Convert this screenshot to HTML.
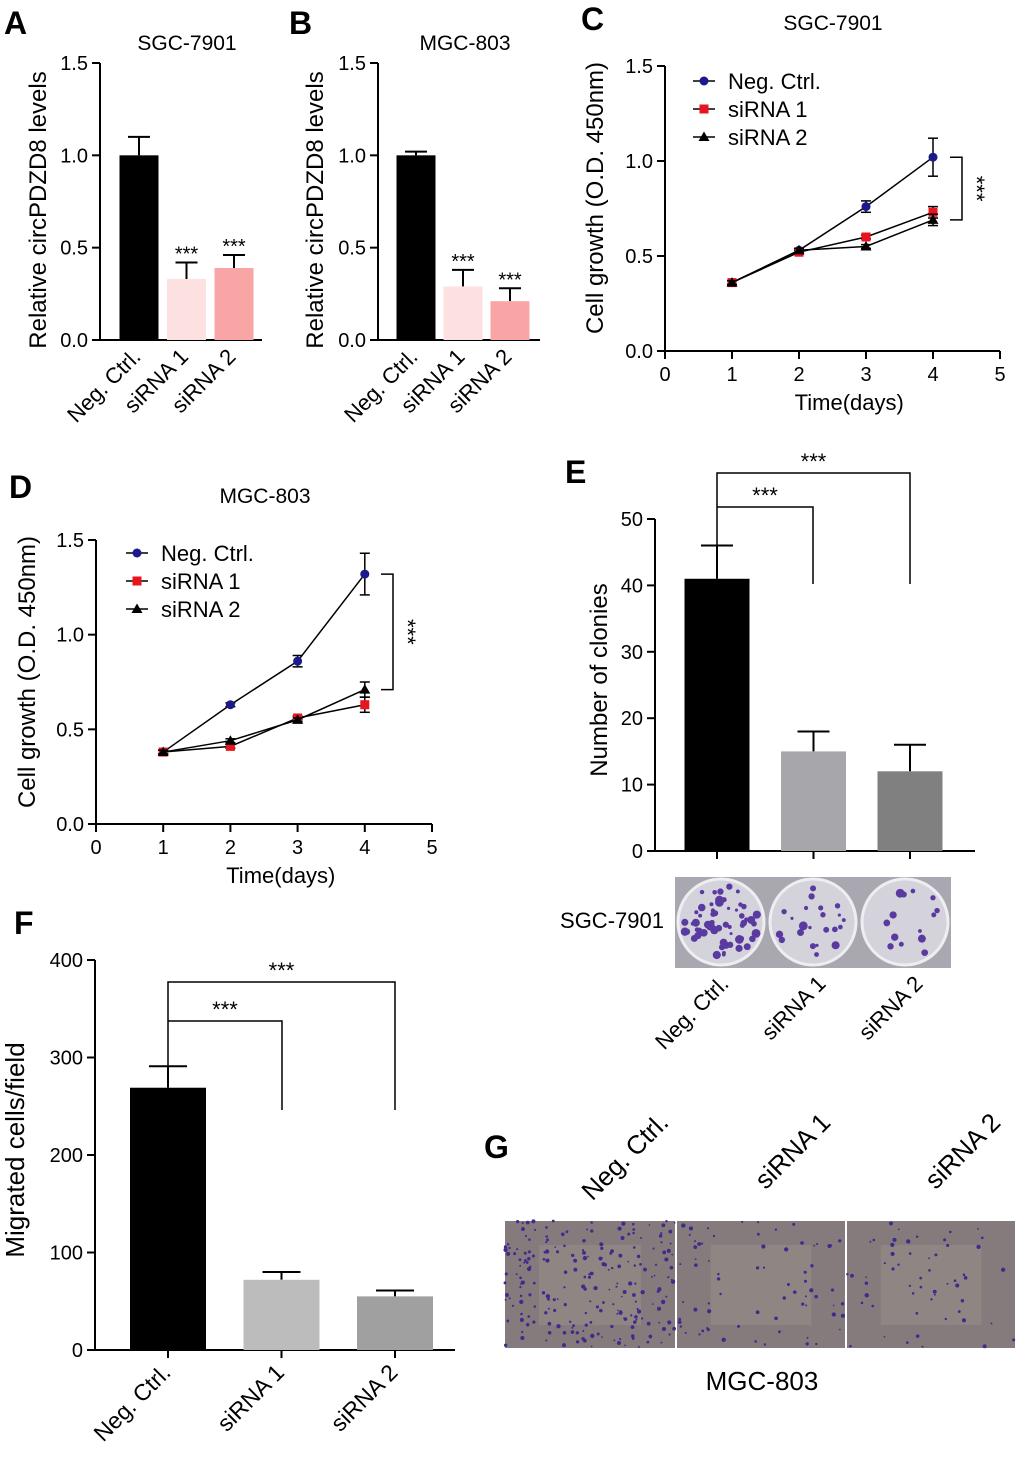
<!DOCTYPE html>
<html><head><meta charset="utf-8">
<style>
html,body{margin:0;padding:0;background:#fff;}
svg{display:block;font-family:"Liberation Sans",Arial,sans-serif;}
</style></head>
<body>
<svg id="fig" width="1020" height="1461" viewBox="0 0 1020 1461" xmlns="http://www.w3.org/2000/svg">
<g id="labels" font-weight="bold" font-size="32" fill="#000">
<text x="4" y="34">A</text>
<text x="289" y="34">B</text>
<text x="581" y="30">C</text>
<text x="9" y="498">D</text>
<text x="565" y="483">E</text>
<text x="14" y="934">F</text>
<text x="484" y="1158">G</text>
</g>
</svg>
<script>
// ---- Panel A data ----
const aCategories = ["Neg. Ctrl.", "siRNA 1", "siRNA 2"];
const aValues = [1.0, 0.33, 0.39];
const aErrors = [0.1, 0.09, 0.07];
const aStars = ["", "***", "***"];
// ---- Panel B data ----
const bCategories = ["Neg. Ctrl.", "siRNA 1", "siRNA 2"];
const bValues = [1.0, 0.29, 0.21];
const bErrors = [0.02, 0.09, 0.07];
const bStars = ["", "***", "***"];
const abTicks = [0, 0.5, 1.0, 1.5];
// ---- Panel C data ----
const cDays = [1, 2, 3, 4];
const cNeg = [0.36, 0.53, 0.76, 1.02];
const cNegErr = [0.01, 0.01, 0.03, 0.1];
const cSi1 = [0.36, 0.52, 0.60, 0.73];
const cSi1Err = [0.01, 0.01, 0.01, 0.03];
const cSi2 = [0.36, 0.53, 0.55, 0.69];
const cSi2Err = [0.01, 0.01, 0.01, 0.03];
// ---- Panel D data ----
const dDays = [1, 2, 3, 4];
const dNeg = [0.38, 0.63, 0.86, 1.32];
const dNegErr = [0.01, 0.01, 0.03, 0.11];
const dSi1 = [0.38, 0.41, 0.56, 0.63];
const dSi1Err = [0.01, 0.01, 0.01, 0.04];
const dSi2 = [0.38, 0.44, 0.55, 0.71];
const dSi2Err = [0.01, 0.01, 0.01, 0.04];
const lineYTicks = [0, 0.5, 1.0, 1.5];
const lineXTicks = [0, 1, 2, 3, 4, 5];
const seriesNames = ["Neg. Ctrl.", "siRNA 1", "siRNA 2"];
// ---- Panel E data ----
const eCategories = ["Neg. Ctrl.", "siRNA 1", "siRNA 2"];
const eValues = [41, 15, 12];
const eErrors = [5, 3, 4];
const eTicks = [0, 10, 20, 30, 40, 50];
// ---- Panel F data ----
const fCategories = ["Neg. Ctrl.", "siRNA 1", "siRNA 2"];
const fValues = [269, 72, 55];
const fErrors = [22, 8, 6];
const fTicks = [0, 100, 200, 300, 400];

const NS = "http://www.w3.org/2000/svg";
const svg = document.getElementById("fig");
function mk(tag, attrs, parent, txt){
  const e = document.createElementNS(NS, tag);
  for (const k in attrs) e.setAttribute(k, attrs[k]);
  if (txt !== undefined) e.textContent = txt;
  (parent || svg).appendChild(e);
  return e;
}
function line(x1,y1,x2,y2,p,w){return mk("line",{x1,y1,x2,y2,stroke:"#000","stroke-width":w||2},p);}

function yAxis(g, x, scale, ticks, fmt, top, bottom){
  const ax = mk("g",{},g);
  
  
  line(x, top, x, bottom, ax);
  ticks.forEach(t=>{
    const y = scale(t);
    line(x-8, y, x, y, ax);
    const tx = mk("text",{x:x-12,y:y+7,"font-size":20,"text-anchor":"end"},ax,fmt(t));
    
    
  });
}
function yTitle(g, x, y, txt, size){
  const t = mk("text",{x:0,y:0,"font-size":size||24,"text-anchor":"middle",transform:`translate(${x},${y}) rotate(-90)`},g,txt);
  
  
}
function rotLabel(g, x, y, txt, size, name){
  const t = mk("text",{x:0,y:0,"font-size":size||22,"text-anchor":"end",transform:`translate(${x},${y}) rotate(-45)`},g,txt);
  
  
}
function title(g,x,y,txt,size){
  const t = mk("text",{x,y,"font-size":size||21,"text-anchor":"middle"},g,txt);
  
  
}

function barChart(opt){
  const g = mk("g",{});
  
  
  const scale = v => opt.y0 - (v - 0) * (opt.y0 - opt.yTop) / opt.vMax;
  yAxis(g, opt.ax, scale, opt.ticks, opt.fmt, scale(opt.vMax), opt.y0+1);
  line(opt.ax, opt.y0, opt.axEnd, opt.y0, g);
  opt.cats.forEach((c,i)=>{
    const cx = opt.x0 + i*opt.step;
    const x = cx - opt.bw/2;
    const yv = scale(opt.vals[i]);
    const ye = scale(opt.vals[i] + opt.errs[i]);
    line(cx, yv, cx, ye, g, 2);
    line(cx-opt.cap, ye, cx+opt.cap, ye, g, 2);
    const r = mk("rect",{x, y:yv, width:opt.bw, height:opt.y0-yv, fill:opt.colors[i]},g);
    
    
    if (opt.tickMarks) line(cx, opt.y0, cx, opt.y0+8, g);
    if (opt.stars && opt.stars[i]) {
      const s = mk("text",{x:cx, y:ye-2, "font-size":20,"text-anchor":"middle"},g,opt.stars[i]);
      
      
    }
    if (!opt.noLabels) rotLabel(g, cx+opt.lblDx, opt.y0+opt.lblDy, c, opt.lblSize);
  });
  return {g, scale};
}

// Panel A
const A = barChart({name:"panel-a-bar-chart", ax:100, axEnd:262, y0:340, yTop:63, vMax:1.5, ticks:abTicks,
  fmt:t=>t.toFixed(1), cats:aCategories, vals:aValues, errs:aErrors, x0:139, step:47.5, bw:39, cap:11,
  colors:["#000","#fde0e0","#f9a4a5"], stars:aStars, lblDx:3, lblDy:18, lblSize:22});
title(A.g,187,50,"SGC-7901");
yTitle(A.g,46,210,"Relative circPDZD8  levels");
// Panel B
const B = barChart({name:"panel-b-bar-chart", ax:378, axEnd:540, y0:340, yTop:63, vMax:1.5, ticks:abTicks,
  fmt:t=>t.toFixed(1), cats:bCategories, vals:bValues, errs:bErrors, x0:416, step:47, bw:39, cap:11,
  colors:["#000","#fde0e0","#f9a4a5"], stars:bStars, lblDx:3, lblDy:18, lblSize:22});
title(B.g,465,50,"MGC-803");
yTitle(B.g,323,210,"Relative circPDZD8  levels");

function lineChart(opt){
  const g = mk("g",{});
  
  
  const ys = v => opt.y0 - v*(opt.y0-opt.yTop)/1.5;
  const xs = d => opt.ax + d*opt.dx;
  yAxis(g, opt.ax, ys, lineYTicks, t=>t.toFixed(1), opt.yTop, opt.y0+1);
  const xa = mk("g",{},g);
  
  
  line(opt.ax, opt.y0, xs(5), opt.y0, xa);
  lineXTicks.forEach(t=>{
    line(xs(t), opt.y0, xs(t), opt.y0+8, xa);
    const tt = mk("text",{x:xs(t), y:opt.y0+30, "font-size":20,"text-anchor":"middle"},xa,String(t));
    
    
  });
  const xt = mk("text",{x:xs(2.75), y:opt.y0+59, "font-size":22,"text-anchor":"middle"},g,"Time(days)");
  
  
  const series = [[opt.neg,opt.negErr,"#1a1a8c","circle"],[opt.s1,opt.s1Err,"#e8141e","square"],[opt.s2,opt.s2Err,"#000","triangle"]];
  series.forEach(([vals,errs,col,shape],si)=>{
    const sg = mk("g",{},g);
    
    
    const pts = opt.days.map((d,i)=>xs(d)+","+ys(vals[i])).join(" ");
    mk("polyline",{points:pts, fill:"none", stroke:"#000","stroke-width":1.5},sg);
    opt.days.forEach((d,i)=>{
      const x = xs(d), y = ys(vals[i]);
      const yt = ys(vals[i]+errs[i]), yb = ys(vals[i]-errs[i]);
      line(x,yt,x,yb,sg,1.5); line(x-5,yt,x+5,yt,sg,1.5); line(x-5,yb,x+5,yb,sg,1.5);
      marker(sg,shape,x,y,col);
    });
  });
  const lg = mk("g",{},g);
  
  
  seriesNames.forEach((n,i)=>{
    const y = opt.legY + i*28;
    const e = mk("g",{},lg);
    
    
    line(opt.legX, y, opt.legX+22, y, e, 1.5);
    marker(e, ["circle","square","triangle"][i], opt.legX+11, y, ["#1a1a8c","#e8141e","#000"][i]);
    mk("text",{x:opt.legX+35, y:y+8, "font-size":22},e,n);
  });
  const bx = opt.brX, top = ys(opt.neg[3]), bot = ys(opt.s2[3]);
  const br = mk("polyline",{points:`${bx},${top} ${bx+12},${top} ${bx+12},${bot} ${bx},${bot}`, fill:"none", stroke:"#000","stroke-width":1.5},g);
  
  
  const st = mk("text",{x:0,y:0,"font-size":22,"text-anchor":"middle",transform:`translate(${bx+19},${(top+bot)/2}) rotate(90)`},g,"***");
  
  
  return g;
}
function marker(p,shape,x,y,col){
  if (shape==="circle") mk("circle",{cx:x,cy:y,r:4.5,fill:col},p);
  else if (shape==="square") mk("rect",{x:x-4.5,y:y-4.5,width:9,height:9,fill:col},p);
  else mk("polygon",{points:`${x},${y-5.5} ${x+5.5},${y+4} ${x-5.5},${y+4}`,fill:col},p);
}
const C = lineChart({name:"panel-c-line-chart", ax:665, dx:67, y0:351, yTop:66, days:cDays,
  neg:cNeg,negErr:cNegErr,s1:cSi1,s1Err:cSi1Err,s2:cSi2,s2Err:cSi2Err, legX:693, legY:81, brX:950});
title(C,833,30,"SGC-7901");
yTitle(C,603,198,"Cell growth (O.D. 450nm)");
const D = lineChart({name:"panel-d-line-chart", ax:96, dx:67.2, y0:824, yTop:540, days:dDays,
  neg:dNeg,negErr:dNegErr,s1:dSi1,s1Err:dSi1Err,s2:dSi2,s2Err:dSi2Err, legX:126, legY:553, brX:381});
title(D,265,503,"MGC-803");
yTitle(D,35,672,"Cell growth (O.D. 450nm)");

function brackets(g, x0, x1, x2, yOuter, yInner, yDown, yStart){
  const b = mk("g",{},g);
  
  
  mk("polyline",{points:`${x0},${yStart} ${x0},${yOuter} ${x2},${yOuter} ${x2},${yDown}`,fill:"none",stroke:"#000","stroke-width":1.5},b);
  mk("polyline",{points:`${x0},${yInner} ${x1},${yInner} ${x1},${yDown}`,fill:"none",stroke:"#000","stroke-width":1.5},b);
  mk("text",{x:(x0+x2)/2, y:yOuter-4, "font-size":22,"text-anchor":"middle"},b,"***");
  mk("text",{x:(x0+x1)/2, y:yInner-4, "font-size":22,"text-anchor":"middle"},b,"***");
}
// Panel E
const E = barChart({name:"panel-e-bar-chart", ax:655, axEnd:975, y0:851, yTop:519, vMax:50, ticks:eTicks,
  fmt:t=>String(t), cats:eCategories, vals:eValues, errs:eErrors, x0:717, step:96.5, bw:65, cap:16,
  colors:["#000","#a7a7ab","#808080"], tickMarks:true, noLabels:true});
yTitle(E.g,607,680,"Number of clonies");
brackets(E.g, 717, 813, 910, 473, 507, 584, E.scale(eValues[0]+eErrors[0]));
const photos = mk("g",{});


let seed = 7; function rnd(){seed=(seed*9301+49297)%233280;return seed/233280;}
[[675,60],[767,22],[859,14]].forEach(([x,n],i)=>{
  const pg = mk("g",{},photos);
  
  
  mk("rect",{x,y:877,width:92,height:91,fill:"#a9a8b0"},pg);
  mk("circle",{cx:x+46,cy:922,r:43,fill:"#d4d3dc",stroke:"#eeeef2","stroke-width":3},pg);
  for(let k=0;k<n;k++){const a=rnd()*6.28,r=Math.sqrt(rnd())*38;
    mk("circle",{cx:x+46+r*Math.cos(a),cy:922+r*Math.sin(a),r:1.5+rnd()*3,fill:"#5a3aa0"},pg);}
});
const sg7 = mk("text",{x:612,y:928,"font-size":22,"text-anchor":"middle"});


sg7.textContent = "SGC-7901";
const eLab = mk("g",{});


eCategories.forEach((c,i)=>rotLabel(eLab, 730+i*97, 985, c, 22));

// Panel F
const F = barChart({name:"panel-f-bar-chart", ax:95, axEnd:455, y0:1350, yTop:960, vMax:400, ticks:fTicks,
  fmt:t=>String(t), cats:fCategories, vals:fValues, errs:fErrors, x0:168, step:113.5, bw:76, cap:19,
  colors:["#000","#bcbcbc","#a0a0a0"], tickMarks:true, lblDx:4, lblDy:24, lblSize:23});
yTitle(F.g,24,1150,"Migrated cells/field",26);
brackets(F.g, 168, 282, 395, 982, 1021, 1110, F.scale(fValues[0]+fErrors[0]));

// Panel G
const G = mk("g",{});


[[505,170,220],[677,168,70],[847,168,55]].forEach(([x,w,n],i)=>{
  const pg = mk("g",{},G);
  
  
  mk("rect",{x,y:1221,width:w,height:127,fill:"#857a7c"},pg);
  mk("rect",{x:x+w*0.2,y:1245,width:w*0.6,height:80,fill:"#968c88",opacity:0.6},pg);
  for(let k=0;k<n;k++){
    mk("circle",{cx:x+rnd()*w,cy:1221+rnd()*127,r:0.8+rnd()*1.4,fill:"#3c2c8c"},pg);
  }
});
["Neg. Ctrl.","siRNA 1","siRNA 2"].forEach((c,i)=>rotLabel(G,[670,832,1002][i],1124,c,26,'image-column-label'));
const mg = mk("text",{x:762,y:1390,"font-size":26,"text-anchor":"middle"});


mg.textContent = "MGC-803";
</script>
</body></html>
